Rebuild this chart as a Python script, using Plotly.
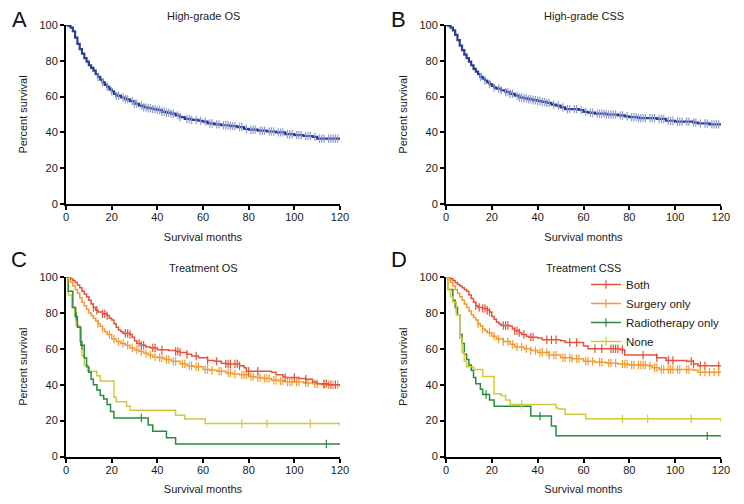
import numpy as np
import plotly.graph_objects as go

FONT = "Liberation Sans, Arial, sans-serif"

# ---------------- Panel A: High-grade OS ----------------
a_t = [0, 1, 2, 3, 4, 5, 6, 7, 8, 9, 10, 11, 12, 13, 14, 15, 16, 17, 18, 19, 20, 21, 22, 24, 26, 28,
       30, 32, 34, 36, 38, 40, 42, 44, 46, 48, 50, 52, 55, 58, 60, 62, 65, 68, 72, 75, 78, 80, 84, 88,
       92, 96, 100, 104, 108, 110, 120]
a_s = [100, 99.5, 98.5, 96.5, 93, 89.5, 86.5, 84, 81.5, 79.5, 77.5, 76, 74.5, 72.5, 71, 69.5, 68, 66.5, 65.5, 64, 63, 61.5,
       60.5, 59.5, 58.5, 57.5, 56, 55, 54, 53.5, 53, 52.5, 51.5, 51, 50.5, 49.5, 48.5, 47.5, 47, 46.5, 46, 45,
       44.5, 44, 43.5, 43, 42, 41.5, 41, 40.5, 40, 39, 38.5, 38, 37.5, 36.5, 36.5]
a_cens = [14, 16, 18, 20, 22, 23, 25, 26, 27, 29, 30, 31, 33, 34, 35, 36, 37, 38, 39, 40, 41, 42, 43, 44,
          45, 46, 47, 49, 50, 53, 54, 55, 57, 59, 61, 63, 64, 66, 67, 69, 70, 71, 72, 73, 74, 76, 77, 79,
          81, 82, 83, 85, 86, 87, 89, 90, 91, 93, 94, 95, 97, 98, 99, 101, 102, 103, 105, 106, 107, 109,
          111, 112, 113, 115, 116, 117, 118, 119]

# ---------------- Panel B: High-grade CSS ----------------
b_t = [0, 1, 2, 3, 4, 5, 6, 7, 8, 9, 10, 11, 12, 13, 14, 15, 16, 17, 18, 19, 20, 21, 22, 24, 26, 28,
       30, 32, 34, 36, 38, 40, 42, 44, 46, 48, 50, 52, 55, 58, 60, 62, 65, 70, 75, 78, 80, 84, 88, 92,
       96, 100, 104, 108, 110, 115, 120]
b_s = [100, 99.5, 98.5, 97, 94.5, 91.5, 88.5, 86, 83.5, 81.5, 79.5, 77.5, 75.5, 74, 72.5, 71, 70, 69, 68, 67, 66, 65,
       64.5, 63.5, 62.5, 61.5, 60.5, 59.5, 59, 58.5, 58, 57.5, 57, 56.5, 55.5, 55, 54, 53, 53, 52.5, 51.5,
       51, 50.5, 50, 49.5, 49, 48.5, 48, 48, 47.5, 46.5, 46, 46, 45.5, 45, 44.5, 44.5]
b_cens = [15, 17, 19, 21, 23, 24, 26, 27, 28, 29, 31, 32, 33, 34, 35, 36, 37, 38, 39, 40, 41, 42, 43, 44,
          45, 47, 49, 51, 53, 54, 56, 57, 59, 61, 63, 64, 66, 67, 68, 69, 70, 71, 72, 73, 74, 76, 77, 79,
          81, 82, 83, 84, 85, 86, 87, 89, 90, 91, 93, 94, 95, 97, 98, 99, 101, 102, 103, 105, 106, 108,
          109, 111, 113, 114, 116, 117, 118, 119]

# ---------------- Panel C: Treatment OS ----------------
c_both_t = [0, 2, 3, 4, 5, 6, 7, 8, 9, 10, 11, 12, 13, 14, 16, 18, 19, 20, 21, 22, 23, 24, 25, 28, 29, 30,
            31, 33, 35, 37, 40, 45, 48, 50, 53, 55, 58, 62, 65, 68, 70, 76, 78, 79, 90, 92, 95, 96, 102,
            105, 108, 110, 115, 120]
c_both_s = [100, 99, 98, 97, 95.5, 94, 92, 90.5, 89, 87, 85, 83, 81.5, 80.5, 79.5, 78.5, 77, 76, 74, 72, 70.5,
            69.5, 68.5, 68, 66.5, 64.5, 63, 62, 61, 60.5, 59.5, 59, 58.5, 58, 57, 56, 55, 53.5, 53, 52, 51.5,
            50.5, 49.5, 47.5, 47, 45.5, 44.5, 44, 43.5, 43, 41.5, 40.5, 40, 39]
c_both_cens = [12, 13.5, 16, 17, 18, 26, 27, 28, 32, 33, 34, 38, 39, 42, 48, 49, 50, 53, 57, 62, 66, 70,
               71, 72, 74, 75, 76, 80, 84, 96, 100, 105, 113, 114, 116, 118]
c_surg_t = [0, 1, 2, 3, 4, 5, 6, 7, 8, 9, 10, 11, 12, 13, 14, 15, 16, 17, 18, 20, 22, 24, 26, 28, 30, 32,
            34, 36, 38, 40, 43, 46, 50, 53, 56, 60, 63, 66, 70, 73, 76, 80, 83, 86, 90, 93, 96, 100, 104,
            108, 112, 120]
c_surg_s = [100, 98.5, 97, 95, 93, 91, 88.5, 86, 84, 82, 80, 78.5, 77, 75.5, 74, 72.5, 71, 69.5, 68, 65.5,
            64, 63, 62, 60.5, 59.5, 58.5, 57.5, 56.5, 55.5, 55, 54, 53, 51.5, 50.5, 50, 48.5, 48, 47.5,
            46.5, 46, 45.5, 44.5, 44, 43.5, 42.5, 42, 41.5, 41.5, 41, 40.5, 40, 39.5]
c_surg_cens = [14, 16, 19, 21, 23, 25, 27, 29, 31, 33, 35, 37, 39, 41, 42, 44, 45, 47, 48, 51, 52, 54, 55,
               57, 58, 61, 62, 64, 67, 68, 71, 72, 74, 77, 78, 79, 81, 82, 84, 85, 87, 88, 89, 91, 92,
               94, 95, 97, 98, 99, 101, 102, 105, 106, 109, 110, 113, 115, 117, 119]
c_radio_t = [0, 1, 3, 4, 5, 6.5, 8, 9, 10, 11, 12, 13.5, 15, 16.5, 18, 19.5, 21, 36, 38, 44, 48]
c_radio_s = [100, 92, 83, 78, 72, 62, 55, 50, 47, 43, 40, 37, 34, 32, 29, 25, 21.5, 17.5, 14, 10.5, 7]
c_radio_cens = [4.5, 7, 33, 114]
c_none_t = [0, 1, 2.5, 4.5, 6, 7, 8, 9.5, 13.5, 15, 21, 22, 26.5, 28, 48, 52, 61, 120]
c_none_s = [100, 90, 83, 73, 64, 56, 51, 47.5, 45, 42, 33, 30.5, 28, 25.7, 23, 20.9, 18.4, 17]
c_none_cens = [77, 88, 107]

# ---------------- Panel D: Treatment CSS ----------------
d_both_t = [0, 2, 3, 4, 5, 6, 7, 8, 9, 10, 11, 12, 13, 14, 16, 18, 19, 20, 21, 22, 23, 24, 28, 29, 30, 32,
            33, 35, 36, 40, 42, 50, 52, 60, 62, 76, 78, 92, 96, 105, 108, 110, 120]
d_both_s = [100, 99, 98, 97, 96, 95, 94, 93, 92, 90, 88, 86, 84, 83, 82.5, 81.5, 80.5, 78, 76.5, 75, 74, 73,
            72.5, 71, 70, 69, 68, 67, 66.5, 66, 65, 64.5, 63.5, 61.5, 60, 59.5, 56.5, 55, 53.5, 53, 51.5,
            50.5, 50.5]
d_both_cens = [13, 14.5, 16, 17, 18, 19, 25, 26, 27, 30, 31, 32, 34, 37, 38, 44, 46, 48, 54, 57, 65, 68,
               72, 73, 74, 75, 77, 86, 92, 97, 99, 107, 108, 111, 113, 119]
d_surg_t = [0, 1, 2, 3, 4, 5, 6, 7, 8, 9, 10, 11, 12, 13, 14, 15, 16, 17, 18, 20, 22, 25, 28, 30, 34, 37,
            40, 45, 50, 55, 60, 65, 70, 75, 80, 88, 90, 93, 108, 110, 120]
d_surg_s = [100, 98.5, 97, 95, 93, 91, 89, 87, 85, 83, 81, 79, 77.5, 76, 74, 72.5, 71, 70, 69, 67, 65.5,
            64, 62.5, 61, 60, 59, 58, 56.5, 55, 54.5, 53, 52.5, 52, 51.5, 51, 50.5, 49.5, 48.5, 48, 47, 47]
d_surg_cens = [14, 16, 19, 21, 23, 25, 27, 29, 31, 33, 35, 37, 39, 41, 42, 44, 45, 47, 48, 51, 52, 54, 55,
               57, 58, 61, 62, 64, 67, 68, 71, 72, 74, 77, 78, 79, 81, 82, 84, 85, 86, 87, 89, 91, 92,
               94, 95, 97, 98, 99, 101, 102, 105, 106, 111, 113, 115, 117, 119]
d_radio_t = [0, 1, 3, 4, 5, 6, 7, 8, 9, 10, 11, 12, 13, 15, 16, 19, 21, 37, 46, 48]
d_radio_s = [100, 93, 87, 83, 79, 68, 63, 57, 54, 51, 48, 44, 40.5, 37.5, 34.5, 31.5, 28, 22.5, 17, 11.5]
d_radio_cens = [4.5, 17.5, 41, 114]
d_none_t = [0, 1, 2, 3, 4.5, 6, 7, 8, 9, 12, 16, 21, 24, 26, 28, 48, 49, 52, 61, 120]
d_none_s = [100, 93, 89, 86, 79, 66, 58, 53, 50, 48.5, 44.5, 35, 34, 31.5, 29, 27, 26.5, 23.5, 21, 19.5]
d_none_cens = [33, 77, 88, 107]

titles = ["High-grade OS", "High-grade CSS", "Treatment OS", "Treatment CSS"]
letters = ["A", "B", "C", "D"]
x_ticks = [0, 20, 40, 60, 80, 100, 120]
y_ticks = [0, 20, 40, 60, 80, 100]
group_names = ["Both", "Surgery only", "Radiotherapy only", "None"]

BLUE = "#2B3F92"
BLUE_LIGHT = "#8E9BD3"
COLORS = ["#E6523C", "#F59A32", "#2A8A3E", "#D3C83C"]

W, H = 744, 504
OFF = 8  # page body margin shifts the figure by this many pixels
# plot areas in screen pixels: (left, right, top(y=100), bottom(y=0))
areas = [(66, 340, 25, 204), (446, 721, 25, 204), (66, 340, 277, 456.5), (446, 721, 277, 456.5)]
letter_pos = [(19, 19), (398, 19), (19, 259), (399, 259)]
title_y = [16, 16, 268, 268]


def px_x(v):
    return (v - OFF) / W


def px_y(v):
    return 1 - (v - OFF) / H


def km(t, s):
    t = list(t)
    s = list(s)
    assert len(t) == len(s)
    if t[-1] < 120:
        t.append(120)
        s.append(s[-1])
    return t, s


def at(t, s, c):
    idx = np.searchsorted(np.array(t, float), np.array(c, float), side="right") - 1
    return np.array(s, float)[idx]


fig = go.Figure()


def add_curve(panel, t, s, cens, color, cens_color, width, name=None):
    xa = "x" if panel == 0 else f"x{panel + 1}"
    ya = "y" if panel == 0 else f"y{panel + 1}"
    t, s = km(t, s)
    fig.add_trace(go.Scatter(x=t, y=s, mode="lines", line=dict(color=color, width=width, shape="hv"),
                             xaxis=xa, yaxis=ya, showlegend=False, hoverinfo="skip"))
    fig.add_trace(go.Scatter(x=cens, y=at(t, s, cens), mode="markers",
                             marker=dict(symbol="line-ns-open", size=6, color=cens_color,
                                         line=dict(color=cens_color, width=1.2)),
                             xaxis=xa, yaxis=ya, showlegend=False, hoverinfo="skip", cliponaxis=False))
    if name is not None:
        fig.add_trace(go.Scatter(x=[None], y=[None], mode="lines+markers", name=name,
                                 line=dict(color=color, width=1.5),
                                 marker=dict(symbol="line-ns-open", size=6, color=color,
                                             line=dict(color=color, width=1.2)),
                                 xaxis=xa, yaxis=ya, showlegend=True))


add_curve(0, a_t, a_s, a_cens, BLUE, BLUE_LIGHT, 2.2)
add_curve(1, b_t, b_s, b_cens, BLUE, BLUE_LIGHT, 2.2)

c_series = [(c_both_t, c_both_s, c_both_cens), (c_surg_t, c_surg_s, c_surg_cens),
            (c_radio_t, c_radio_s, c_radio_cens), (c_none_t, c_none_s, c_none_cens)]
d_series = [(d_both_t, d_both_s, d_both_cens), (d_surg_t, d_surg_s, d_surg_cens),
            (d_radio_t, d_radio_s, d_radio_cens), (d_none_t, d_none_s, d_none_cens)]
for i in [3, 2, 1, 0]:
    t, s, c = c_series[i]
    add_curve(2, t, s, c, COLORS[i], COLORS[i], 1.5)
for i in [0, 1, 2, 3]:
    t, s, c = d_series[i]
    add_curve(3, t, s, c, COLORS[i], COLORS[i], 1.5, name=group_names[i])

tickfont = dict(family=FONT, size=11, color="#1a1a1a")
titlefont = dict(family=FONT, size=11, color="#1a1a1a")
layout = dict(width=W, height=H, margin=dict(l=0, r=0, t=0, b=0, pad=0, autoexpand=False),
              paper_bgcolor="white", plot_bgcolor="white", font=dict(family=FONT))
annotations = []
for p, (l, r, tp, bt) in enumerate(areas):
    xk = "xaxis" if p == 0 else f"xaxis{p + 1}"
    yk = "yaxis" if p == 0 else f"yaxis{p + 1}"
    ya = "y" if p == 0 else f"y{p + 1}"
    xa = "x" if p == 0 else f"x{p + 1}"
    layout[xk] = dict(domain=[px_x(l), px_x(r)], range=[0, 120], tickvals=x_ticks, anchor=ya,
                      showline=True, linewidth=2, linecolor="black", ticks="outside", ticklen=4,
                      tickwidth=1.5, tickcolor="black", showgrid=False, zeroline=False, automargin=False,
                      ticklabelstandoff=-2,
                      tickfont=tickfont, title=dict(text="Survival months", font=titlefont, standoff=11),
                      fixedrange=True)
    layout[yk] = dict(domain=[px_y(bt), px_y(tp)], range=[0, 100], tickvals=y_ticks, anchor=xa,
                      showline=True, linewidth=2, linecolor="black", ticks="outside", ticklen=4,
                      tickwidth=1.5, tickcolor="black", showgrid=False, zeroline=False, automargin=False,
                      tickfont=tickfont, title=dict(text="Percent survival", font=titlefont, standoff=10),
                      fixedrange=True)
    annotations.append(dict(text=titles[p], x=px_x((l + r) / 2), y=px_y(title_y[p]), xref="paper",
                            yref="paper", showarrow=False, xanchor="center", yanchor="middle",
                            font=dict(family=FONT, size=11, color="#1a1a1a")))
    lx, ly = letter_pos[p]
    annotations.append(dict(text=letters[p], x=px_x(lx), y=px_y(ly), xref="paper",
                            yref="paper", showarrow=False, xanchor="center", yanchor="middle",
                            font=dict(family=FONT, size=22, color="#111")))
layout["annotations"] = annotations
layout["legend"] = dict(x=px_x(586), y=px_y(270), xanchor="left", yanchor="top",
                        font=dict(family=FONT, size=11.5, color="#1a1a1a"), bgcolor="rgba(0,0,0,0)",
                        itemwidth=30, tracegroupgap=0)
fig.update_layout(**layout)
fig.write_html("out.html")
